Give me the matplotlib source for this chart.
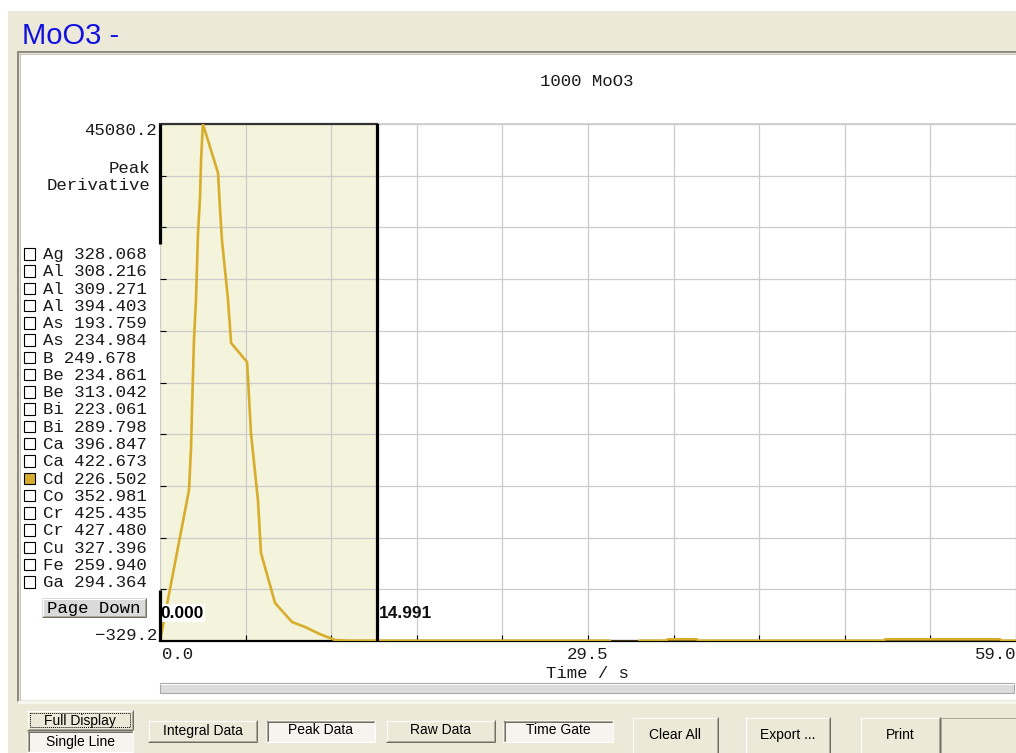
import numpy as np
import matplotlib
matplotlib.use("Agg")
import matplotlib.pyplot as plt
from matplotlib.patches import Rectangle

# ---------------- data ----------------
chart_title = "1000 MoO3"
window_title = "MoO3 -"
y_label_lines = ["Peak", "Derivative"]
x_label = "Time / s"
x_min, x_max = 0.0, 59.0
y_min, y_max = -329.2, 45080.2
x_tick_labels = ["0.0", "29.5", "59.0"]
gate_start, gate_end = 0.000, 14.991

time_s = [0.0, 2.0, 2.14, 2.2, 2.27, 2.34, 2.48, 2.62, 2.76, 2.83, 2.96,
          4.0, 4.14, 4.27, 4.69, 4.9, 6.0, 6.07, 6.27, 6.75, 6.96, 7.93,
          9.1, 10.0, 11.0, 12.06, 13.0, 31.0, 31.05, 33.0, 33.05, 34.9,
          35.0, 37.0, 37.1, 49.9, 50.0, 57.9, 58.0, 59.0]
peak_deriv = [-329.2, 12933, 16710, 19696, 22858, 26108, 29620, 35505, 38667,
              41917, 45080, 40775, 37526, 34891, 29620, 25844, 24175, 22682,
              17939, 12055, 7400, 3008, 1340, 900, 286, -241, -300, -300,
              -420, -420, -300, -300, -180, -180, -300, -300, -180, -180,
              -300, -300]

elements = ['Ag', 'Al', 'Al', 'Al', 'As', 'As', 'B', 'Be', 'Be', 'Bi', 'Bi',
            'Ca', 'Ca', 'Cd', 'Co', 'Cr', 'Cr', 'Cu', 'Fe', 'Ga']
wavelengths = ['328.068', '308.216', '309.271', '394.403', '193.759',
               '234.984', '249.678', '234.861', '313.042', '223.061',
               '289.798', '396.847', '422.673', '226.502', '352.981',
               '425.435', '427.480', '327.396', '259.940', '294.364']
selected_index = 13

buttons_small = ["Integral Data", "Peak Data", "Raw Data", "Time Gate"]
buttons_large = ["Clear All", "Export ...", "Print"]

# ---------------- figure ----------------
W, H = 1016, 753
fig = plt.figure(figsize=(W / 100, H / 100), dpi=100)
fig.patch.set_facecolor('white')

MONO = ['Liberation Mono', 'DejaVu Sans Mono']
SANS = ['Liberation Sans', 'DejaVu Sans']
LINE = '#D8AD2B'
BEIGE = '#ECE9D8'
DARK = '#716F64'
MID = '#ACA899'
TXT = '#1A1A1A'

bg = fig.add_axes([0, 0, 1, 1])
bg.set_xlim(0, W)
bg.set_ylim(H, 0)
bg.axis('off')
bg.set_zorder(0)


def rect(x0, y0, x1, y1, fc, ec='none', lw=0, z=1):
    bg.add_patch(Rectangle((x0, y0), x1 - x0, y1 - y0, facecolor=fc,
                           edgecolor=ec, linewidth=lw, zorder=z))


def seg(xs, ys, color, px=1, z=2, ls='-'):
    bg.plot(xs, ys, color=color, lw=px * 0.72, solid_capstyle='butt',
            zorder=z, linestyle=ls)


def button(x0, y0, x1, y1, label, pressed=False, focus=False, fs=10,
           face=BEIGE, font=SANS, bottom=True, ty=None):
    if pressed:
        rect(x0, y0, x1, y1, '#F5F4EE', z=2)
        seg([x0, x1], [y0 + 0.5, y0 + 0.5], MID, 1, 3)
        seg([x0 + 0.5, x0 + 0.5], [y0, y1], MID, 1, 3)
        seg([x0 + 1, x1 - 1], [y0 + 1.5, y0 + 1.5], DARK, 1, 3)
        seg([x0 + 1.5, x0 + 1.5], [y0 + 1, y1 - 1], DARK, 1, 3)
        seg([x0, x1], [y1 - 0.5, y1 - 0.5], 'white', 1, 3)
        seg([x1 - 0.5, x1 - 0.5], [y0, y1], 'white', 1, 3)
    else:
        rect(x0, y0, x1, y1, face, z=2)
        seg([x0, x1], [y0 + 0.5, y0 + 0.5], 'white', 1, 3)
        seg([x0 + 0.5, x0 + 0.5], [y0, y1], 'white', 1, 3)
        if bottom:
            seg([x0, x1], [y1 - 0.5, y1 - 0.5], DARK, 1, 3)
            seg([x0 + 1, x1 - 1], [y1 - 1.5, y1 - 1.5], MID, 1, 3)
        seg([x1 - 0.5, x1 - 0.5], [y0, y1], DARK, 1, 3)
        seg([x1 - 1.5, x1 - 1.5], [y0 + 1, y1 - 1], MID, 1, 3)
    if focus:
        bg.add_patch(Rectangle((x0 + 3, y0 + 3), x1 - x0 - 6, y1 - y0 - 6,
                               fill=False, edgecolor='black', lw=0.7,
                               linestyle=(0, (1, 1)), zorder=4))
    if ty is None:
        ty = (y0 + y1) / 2 + 1
    bg.text((x0 + x1) / 2, ty, label, ha='center',
            va='center', fontsize=fs, family=font, color='black', zorder=5)


# window background
rect(8, 11, W, H, BEIGE, z=0.5)
bg.text(22, 36, window_title, fontsize=21, family=SANS, color='#1212E0',
        ha='left', va='center', zorder=5)

# sunken white panel
rect(20, 55, W, 700, 'white', z=1)
seg([17, W], [52, 52], '#8E8C80', 2, 2)
seg([19, W], [54, 54], '#C8C5B6', 1, 2)
seg([18, 18], [51, 703], '#8E8C80', 2, 2)
seg([19.5, 19.5], [53, 701], '#C8C5B6', 1, 2)
seg([17, W], [701.5, 701.5], '#F6F5EF', 3, 2)

# scrollbar
rect(160, 683, 1014, 693, '#DCDCDC', ec='#A8A8A8', lw=0.8, z=2)
seg([160, 1014], [683.5, 683.5], 'white', 1, 3)

# chart title
bg.text(587, 81, chart_title, fontsize=12.5, family=MONO, ha='center',
        va='center', zorder=5, color=TXT)

# y-axis labels
bg.text(157, 130, f"{y_max:.1f}", fontsize=12.5, family=MONO, ha='right',
        va='center', zorder=5, color=TXT)
bg.text(150, 168, y_label_lines[0], fontsize=12.5, family=MONO, ha='right',
        va='center', zorder=5, color=TXT)
bg.text(150, 185, y_label_lines[1], fontsize=12.5, family=MONO, ha='right',
        va='center', zorder=5, color=TXT)
bg.text(157, 635, "\u2212" + f"{abs(y_min):.1f}", fontsize=12.5, family=MONO,
        ha='right', va='center', zorder=5, color=TXT)

# element list
row0, pitch = 254, 17.27
for i, (el, wl) in enumerate(zip(elements, wavelengths)):
    yc = row0 + i * pitch
    fc = LINE if i == selected_index else 'white'
    rect(23.5, yc - 6, 35, yc + 5.5, fc, ec='black', lw=0.8, z=3)
    bg.text(43, yc + 0.5, f"{el} {wl}", fontsize=12.5, family=MONO,
            ha='left', va='center', zorder=5, color=TXT)

# page down button
button(42, 598, 146, 617, "Page Down", fs=12.5, face='#DADADA', font=MONO)

# bottom buttons
button(27, 710, 133, 730, "Full Display", focus=True)
button(27, 730, 133, 752, "Single Line", pressed=True)
small_pos = [(148, 257), (266, 375), (386, 495), (503, 613)]
for (x0, x1), lab in zip(small_pos, buttons_small):
    button(x0, 720, x1, 742, lab, pressed=lab in ("Peak Data", "Time Gate"),
           ty=730.5)
large_pos = [(632, 718), (745, 830), (860, 940)]
for (x0, x1), lab in zip(large_pos, buttons_large):
    button(x0, 717, x1, 756, lab, bottom=False, ty=735)
rect(940, 717, W, H, BEIGE, z=2)
seg([940, W], [717.5, 717.5], MID, 1, 3)
seg([940.5, 940.5], [717, H], MID, 1, 3)

# ---------------- data axes ----------------
L, R, T, B = 160, 1016, 124, 641
ax = fig.add_axes([L / W, (H - B) / H, (R - L) / W, (B - T) / H])
ax.set_zorder(2)
ax.set_facecolor('none')
ax.set_xlim(x_min, x_max)
ax.set_ylim(y_min, y_max)
for s in ax.spines.values():
    s.set_visible(False)
xg = np.linspace(x_min, x_max, 11)
yg = np.linspace(y_min, y_max, 11)
ax.set_xticks(xg)
ax.set_yticks(yg)
ax.tick_params(direction='in', length=4.5, width=0.8, color='black',
               labelbottom=False, labelleft=False, top=False, right=False)
ax.set_axisbelow(True)
ax.grid(True, color='#CBCBCB', lw=0.9)
ax.axvspan(gate_start, gate_end, color='#F4F4DC', zorder=0.2, lw=0)
ax.plot([x_min, x_max], [y_max, y_max], color='#CBCBCB', lw=1.2,
        clip_on=False, zorder=0.6)
ax.plot([gate_start, gate_end], [y_max, y_max], color='#333333', lw=1.6,
        clip_on=False, zorder=3)
ax.plot([x_min, x_max], [y_min, y_min], color='black', lw=1.6,
        clip_on=False, zorder=2)
ax.axvline(gate_end, color='black', lw=2.3, zorder=4)
ax.plot(time_s, peak_deriv, color=LINE, lw=1.9, zorder=3)
# left border (partly hidden behind the element list)
ax.plot([0, 0], [1, 0.768], transform=ax.transAxes, color='black', lw=2.3,
        clip_on=False, zorder=5, solid_capstyle='butt')
ax.plot([0, 0], [0.099, 0], transform=ax.transAxes, color='black', lw=2.3,
        clip_on=False, zorder=5, solid_capstyle='butt')

# gate labels
ax.text(gate_start, 0.054, f"{gate_start:.3f}", transform=ax.get_xaxis_transform(),
        ha='left', va='center', fontsize=12.5, fontweight='bold', family=SANS,
        bbox=dict(facecolor='white', edgecolor='none', pad=1), zorder=4.5)
ax.text(gate_end + 0.12, 0.054, f"{gate_end:.3f}", transform=ax.get_xaxis_transform(),
        ha='left', va='center', fontsize=12.5, fontweight='bold', family=SANS,
        color='#111111', zorder=4.5)

# x labels
tr = ax.get_xaxis_transform()
ax.text(x_min + 0.15, -0.027, x_tick_labels[0], transform=tr, ha='left',
        va='center', fontsize=12.5, family=MONO, color=TXT)
ax.text((x_min + x_max) / 2, -0.027, x_tick_labels[1], transform=tr,
        ha='center', va='center', fontsize=12.5, family=MONO, color=TXT)
ax.text(x_max, -0.027, x_tick_labels[2], transform=tr, ha='right',
        va='center', fontsize=12.5, family=MONO, clip_on=False, color=TXT)
ax.text((x_min + x_max) / 2, -0.062, x_label, transform=tr, ha='center',
        va='center', fontsize=12.5, family=MONO, color=TXT)

fig.savefig('out.png', dpi=100)
